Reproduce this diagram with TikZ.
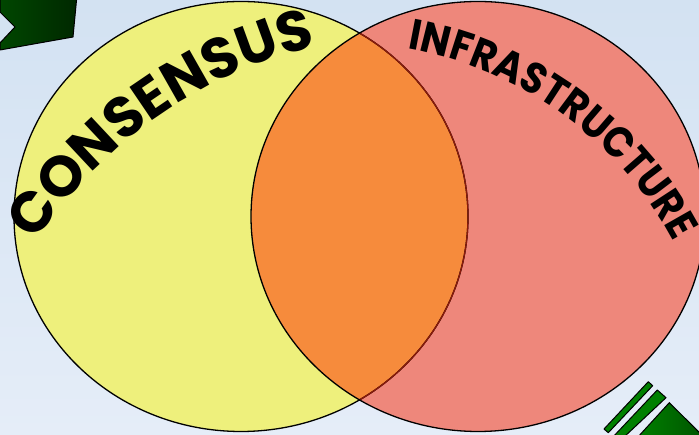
\documentclass[tikz,border=0pt]{standalone}
\usepackage{fontspec}
\usetikzlibrary{decorations.text}
\newfontfamily\vennfont{Poppins}[BoldFont=* Bold]
\newfontfamily\vennnarrow{Poppins}[BoldFont=* Bold, FakeStretch=0.9]

\definecolor{skytop}{RGB}{211,226,242}
\definecolor{skybot}{RGB}{229,237,248}
\definecolor{consyellow}{RGB}{238,240,124}
\definecolor{infrared}{RGB}{238,135,123}
\definecolor{overorange}{RGB}{246,139,60}
\definecolor{overedge}{RGB}{140,26,10}
\definecolor{arrowgreen}{RGB}{0,128,0}
\definecolor{arrowdark}{RGB}{0,40,0}

\begin{document}
\begin{tikzpicture}[x=1pt,y=1pt,
    vennline/.style={line width=1.3pt},
    greenbar/.style={fill=arrowgreen, draw=black, line width=1pt, line join=round}]
                % Frame
                \useasboundingbox (0,0) rectangle (699,435);
                \clip (0,0) rectangle (699,435);
                \shade[top color=skytop, bottom color=skybot] (0,0) rectangle (699,435);

                % Centres
                \coordinate (cons) at (241,218.5);
                \coordinate (infra) at (478,218.5);
                \coordinate (consarc) at (421,-59);
                \coordinate (infraarc) at (342,16);

                % Arrow pieces
                \shade[left color=arrowgreen!55!black, right color=arrowdark, draw=black, line width=1pt]
                    (0,440) -- (77,440) -- (73,398) -- (0,385) -- (0,392) -- (15,408) -- (0,423) -- cycle;
                \draw[greenbar] (604,6) -- (648.3,53.3) -- (652.7,49.3) -- (608.3,2.3) -- cycle;
                \draw[greenbar] (612,-3) -- (657.3,45) -- (666,37.3) -- (623,-3) -- cycle;
                \shade[left color=arrowgreen, right color=arrowgreen!65!black, draw=black, line width=1pt]
                    (637,-3) -- (669.3,32.3) -- (705,-3) -- cycle;

                % Sets
                \fill[consyellow] (cons) ellipse[x radius=227, y radius=215];
                \fill[infrared] (infra) ellipse[x radius=227, y radius=215];
                \begin{scope}
                    \clip (cons) ellipse[x radius=227, y radius=215];
                    \fill[overorange] (infra) ellipse[x radius=227, y radius=215];
                \end{scope}

                % Outlines
                \draw[vennline] (cons) ellipse[x radius=227, y radius=215];
                \begin{scope}
                    \clip (infra) ellipse[x radius=227, y radius=215];
                    \draw[vennline, overedge] (cons) ellipse[x radius=227, y radius=215];
                \end{scope}
                \draw[vennline] (infra) ellipse[x radius=227, y radius=215];

                % Labels
                \path[decorate, decoration={text along path, text align=center,
                    text={|\vennfont\bfseries\fontsize{57}{57}\selectfont|CONSENSUS}}]
                    (consarc) ++(155:460) arc[start angle=155, end angle=95, radius=460];
                \path[decorate, decoration={text along path, text align=center,
                    text={|\vennnarrow\bfseries\fontsize{43}{43}\selectfont|INFRASTRUCTURE}}]
                    (infraarc) ++(90:376) arc[start angle=90, end angle=18, radius=376];
            \end{tikzpicture}
\end{document}
